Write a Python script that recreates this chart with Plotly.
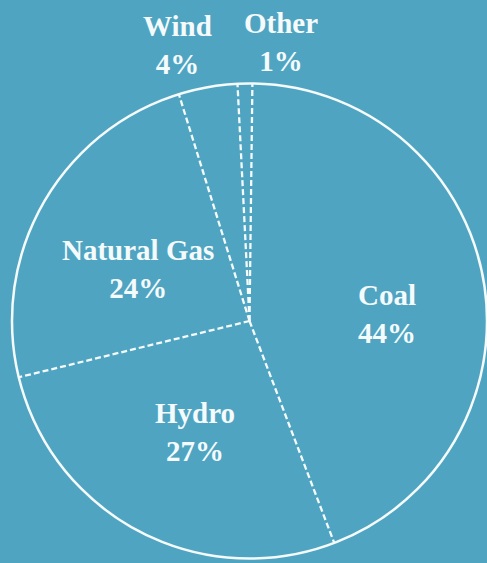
import math
import plotly.graph_objects as go

# Electricity generation by source (percent)
sources = ["Coal", "Hydro", "Natural Gas", "Wind", "Other"]
shares = [44, 27, 24, 4, 1]

# Label placement: radius (fraction of pie radius) and angular nudge (degrees)
label_r = [0.58, 0.52, 0.52, 1.20, 1.18]
label_nudge = [7, -1.5, -4.5, -4.5, 7.5]

BG = "rgb(79,165,193)"
LINE = "rgb(245,250,252)"
start_angle = 0.7  # clockwise from 12 o'clock

W, H = 487, 563
# polar area geometry (pixels)
left_px, radius_px, center_from_bottom = 12, 237.5, 242
dom_x = [left_px / W, 1.0]
dom_y = [(center_from_bottom - radius_px) / H, (center_from_bottom + radius_px) / H]
cx = (left_px + radius_px) / W
cy = center_from_bottom / H

fig = go.Figure()

# slice boundaries from cumulative shares
total = sum(shares)
bounds = [start_angle]
for s in shares:
    bounds.append(bounds[-1] + s / total * 360.0)

# dashed radial separators
for b in bounds[:-1]:
    fig.add_trace(go.Scatterpolar(
        r=[0, 1], theta=[b, b], mode="lines",
        line=dict(color=LINE, width=2.3, dash="6px,3px"),
        hoverinfo="skip", showlegend=False,
    ))

# slice labels (placed on the paper around the pie centre)
for i, (name, val) in enumerate(zip(sources, shares)):
    mid = math.radians((bounds[i] + bounds[i + 1]) / 2 + label_nudge[i])
    x = cx + label_r[i] * radius_px * math.sin(mid) / W
    y = cy + label_r[i] * radius_px * math.cos(mid) / H
    fig.add_annotation(
        x=x, y=y, xref="paper", yref="paper",
        xanchor="center", yanchor="middle", showarrow=False,
        text=f"<b>{name}</b><br><b>{val}%</b>",
        font=dict(family="Liberation Serif", size=29, color=LINE),
    )

fig.update_layout(
    width=W, height=H,
    margin=dict(l=0, r=0, t=0, b=0),
    paper_bgcolor=BG, plot_bgcolor=BG,
    polar=dict(
        domain=dict(x=dom_x, y=dom_y),
        bgcolor=BG,
        radialaxis=dict(visible=False, range=[0, 1]),
        angularaxis=dict(
            direction="clockwise", rotation=90,
            showline=True, linecolor=LINE, linewidth=2.5,
            showgrid=False, showticklabels=False, ticks="",
        ),
    ),
)

fig.write_html("out.html")
